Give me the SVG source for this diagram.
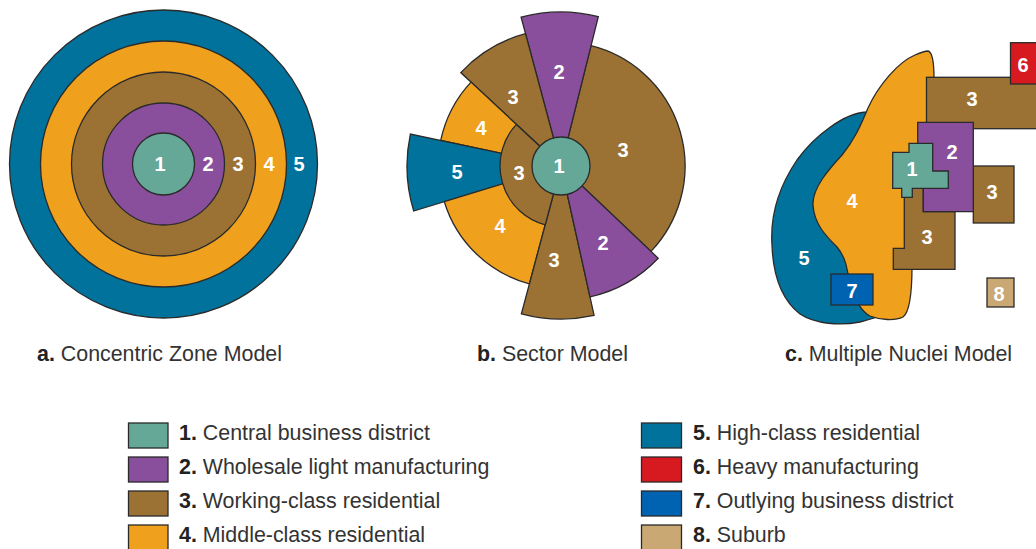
<svg xmlns="http://www.w3.org/2000/svg" width="1036" height="549" viewBox="0 0 1036 549">
<style>
.s{stroke:#2a2a2a;stroke-width:1.3;stroke-linejoin:miter}
.z1{fill:#66a898}.z2{fill:#8a4f9c}.z3{fill:#9c7234}.z4{fill:#efa01d}.z5{fill:#00729b}.z6{fill:#d71920}.z7{fill:#0063b1}.z8{fill:#c9a874}
.n{font-family:"Liberation Sans",Arial,sans-serif;font-weight:bold;font-size:20px;fill:#fff;text-anchor:middle;dominant-baseline:central}
.t{font-family:"Liberation Sans",Arial,sans-serif;font-size:21.4px;fill:#333}
.t tspan.b{font-weight:bold;fill:#222}
</style>
<rect width="1036" height="549" fill="#fff"/>

<g id="concentric">
<circle class="s z5" cx="163.5" cy="164" r="154"/>
<circle class="s z4" cx="163.5" cy="164" r="123"/>
<circle class="s z3" cx="163.5" cy="164" r="92"/>
<circle class="s z2" cx="163.5" cy="164" r="61"/>
<circle class="s z1" cx="163.5" cy="164" r="31"/>
<text class="n" x="160" y="164">1</text>
<text class="n" x="208" y="164">2</text>
<text class="n" x="238" y="164">3</text>
<text class="n" x="269" y="164">4</text>
<text class="n" x="299" y="164">5</text>
</g>

<g id="sector">
<path class="s z3" d="M561,166 L651,251.4 A124,124 0 0 0 591,45.7 Z"/>
<path class="s z2" d="M561,166 L598.3,16.6 A154,154 0 0 0 521.1,17.2 Z"/>
<path class="s z3" d="M561,166 L525.5,33.7 A137,137 0 0 0 460.8,72.6 Z"/>
<path class="s z4" d="M561,166 L471,82.1 A123,123 0 0 0 440.7,140.4 Z"/>
<path class="s z5" d="M561,166 L410.4,134 A154,154 0 0 0 413.7,211 Z"/>
<path class="s z4" d="M561,166 L444.3,201.7 A122,122 0 0 0 529.4,283.8 Z"/>
<path class="s z3" d="M561,166 L521.4,313.8 A153,153 0 0 0 594.1,315.4 Z"/>
<path class="s z2" d="M561,166 L590,296.8 A134,134 0 0 0 658.2,258.2 Z"/>
<path class="s z3" d="M561,166 L516.4,124.4 A61,61 0 0 0 545.2,224.9 Z"/>
<circle class="s z1" cx="561" cy="166" r="29"/>
<text class="n" x="559" y="72">2</text>
<text class="n" x="513" y="97">3</text>
<text class="n" x="623" y="150">3</text>
<text class="n" x="481" y="128">4</text>
<text class="n" x="457" y="172">5</text>
<text class="n" x="519" y="173">3</text>
<text class="n" x="559" y="166">1</text>
<text class="n" x="500" y="226">4</text>
<text class="n" x="554" y="260">3</text>
<text class="n" x="603" y="243">2</text>
</g>

<g id="nuclei">
<path class="s z5" d="M880,110 L866,112 C845,113 815,135 797,160 C780,185 770,215 772,245 C773,275 782,300 800,314 C815,324 840,326 860,322 C868,320 874,318 880,316 Z"/>
<path class="s z4" d="M928,51 C932,52 934,60 934,78 L945,78 L945,266 L912,266 C912,290 910,312 903,317 C895,321 880,320 870,316 C862,312 855,300 850,285 C847,268 846,258 837,247 C826,236 814,224 813,205 C812,188 830,168 842,155 C856,138 862,122 868,108 C878,86 898,62 915,55 C922,52 926,51 928,51 Z"/>
<rect class="s z3" x="926.5" y="77.3" width="120" height="51.4"/>
<rect class="s z6" x="1010.5" y="42.7" width="40" height="41.3"/>
<rect class="s z3" x="973.3" y="166" width="40.7" height="57"/>
<path class="s z3" d="M904.3,188.3 L923.3,188.3 L923.3,211.7 L955,211.7 L955,269.3 L893.3,269.3 L893.3,248.3 L904.3,248.3 Z"/>
<path class="s z2" d="M917.7,122.3 L973.3,122.3 L973.3,211.7 L923.3,211.7 L923.3,188.3 L917.7,188.3 Z"/>
<path class="s z1" d="M892.7,152.3 L909,152.3 L909,143.3 L932.7,143.3 L932.7,171 L948.3,171 L948.3,188.3 L912.3,188.3 L912.3,197.3 L901.7,197.3 L901.7,188.3 L892.7,188.3 Z"/>
<rect class="s z7" x="831" y="274" width="42" height="31"/>
<rect class="s z8" x="987" y="278" width="27" height="29"/>
<text class="n" x="1023" y="65">6</text>
<text class="n" x="972" y="99">3</text>
<text class="n" x="952" y="152">2</text>
<text class="n" x="912" y="169">1</text>
<text class="n" x="992" y="192">3</text>
<text class="n" x="852" y="201">4</text>
<text class="n" x="927" y="237">3</text>
<text class="n" x="804" y="258">5</text>
<text class="n" x="852" y="291">7</text>
<text class="n" x="999" y="294">8</text>
</g>

<g id="captions">
<text class="t" x="37" y="361"><tspan class="b">a.</tspan> Concentric Zone Model</text>
<text class="t" x="477" y="361"><tspan class="b">b.</tspan> Sector Model</text>
<text class="t" x="785" y="361"><tspan class="b">c.</tspan> Multiple Nuclei Model</text>
</g>

<g id="legend">
<g id="legend-1"><rect class="s z1" x="128.5" y="423" width="39.5" height="25"/><text class="t" x="179" y="440"><tspan class="b">1.</tspan> Central business district</text></g>
<g id="legend-2"><rect class="s z2" x="128.5" y="457" width="39.5" height="25"/><text class="t" x="179" y="474"><tspan class="b">2.</tspan> Wholesale light manufacturing</text></g>
<g id="legend-3"><rect class="s z3" x="128.5" y="491" width="39.5" height="25"/><text class="t" x="179" y="508"><tspan class="b">3.</tspan> Working-class residential</text></g>
<g id="legend-4"><rect class="s z4" x="128.5" y="525" width="39.5" height="25"/><text class="t" x="179" y="542"><tspan class="b">4.</tspan> Middle-class residential</text></g>
<g id="legend-5"><rect class="s z5" x="641.5" y="423" width="40" height="25"/><text class="t" x="693" y="440"><tspan class="b">5.</tspan> High-class residential</text></g>
<g id="legend-6"><rect class="s z6" x="641.5" y="457" width="40" height="25"/><text class="t" x="693" y="474"><tspan class="b">6.</tspan> Heavy manufacturing</text></g>
<g id="legend-7"><rect class="s z7" x="641.5" y="491" width="40" height="25"/><text class="t" x="693" y="508"><tspan class="b">7.</tspan> Outlying business district</text></g>
<g id="legend-8"><rect class="s z8" x="641.5" y="525" width="40" height="25"/><text class="t" x="693" y="542"><tspan class="b">8.</tspan> Suburb</text></g>
</g>

<g id="connectors"/>
</svg>
